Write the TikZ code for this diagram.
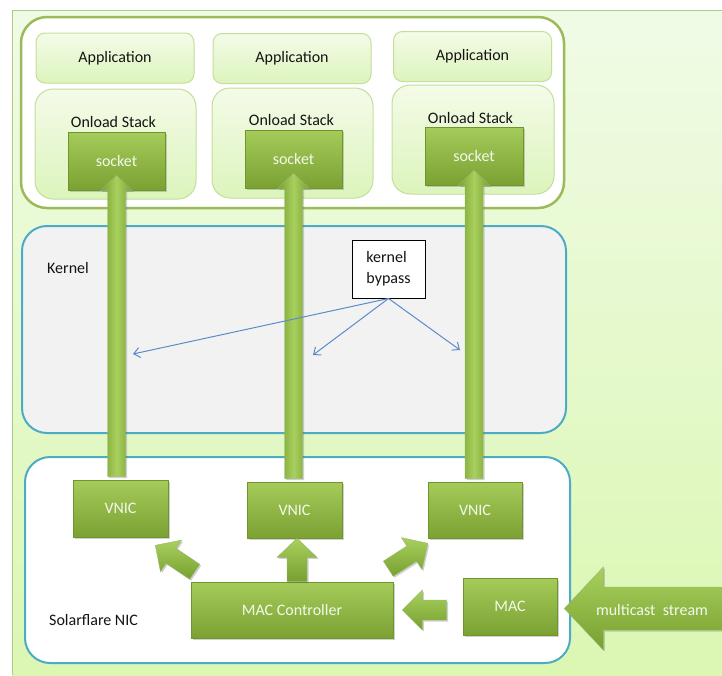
\documentclass[tikz,border=0pt]{standalone}
\usepackage{fontspec}
\setmainfont{Carlito}
\usetikzlibrary{calc,arrows.meta,shadows}

\definecolor{bgtop}{HTML}{F0FBE6}
\definecolor{bgbot}{HTML}{DBF7B2}
\definecolor{bgline}{HTML}{AFCB86}
\definecolor{leafline}{HTML}{9BBB59}
\definecolor{paletop}{HTML}{F4FBE8}
\definecolor{palebot}{HTML}{DCF4BC}
\definecolor{paleline}{HTML}{C4DE9C}
\definecolor{gtop}{HTML}{A5CB5A}
\definecolor{gbot}{HTML}{7AA132}
\definecolor{gline}{HTML}{6F962C}
\definecolor{gdark}{HTML}{76A030}
\definecolor{glight}{HTML}{A9D05E}
\definecolor{aqua}{HTML}{4BACC6}
\definecolor{kgray}{HTML}{F2F2F2}
\definecolor{bluearrow}{HTML}{5B8CC8}
\definecolor{gtext}{HTML}{F4F8EC}
\definecolor{ink}{HTML}{141414}

\newcommand\lbl{\fontsize{16}{21}\selectfont}

% block arrow: [style]{tail}{tip}{shaft half width}{head half width}{head length}
\newcommand\blockarrow[6][]{%
  \coordinate (ba-h) at ($(#3)!#6!(#2)$);
  \path[#1] ($(#2)!#4!90:(#3)$) -- ($(ba-h)!#4!90:(#3)$)
    -- ($(ba-h)!#5!90:(#3)$) -- (#3) -- ($(ba-h)!#5!-90:(#3)$)
    -- ($(ba-h)!#4!-90:(#3)$) -- ($(#2)!#4!-90:(#3)$) -- cycle;
}

\tikzset{
  softshadow/.style={drop shadow={shadow xshift=1.5pt,shadow yshift=-1.5pt,opacity=0.3,fill=black!60}},
  greenbox/.style={draw=gline, line width=0.6pt, top color=gtop, bottom color=gbot,
    text=gtext, font=\lbl, inner sep=0pt, softshadow},
  palebox/.style={draw=paleline, line width=1pt, top color=paletop, bottom color=palebot,
    text=ink, font=\lbl, inner sep=0pt},
  appbox/.style={palebox, rounded corners=9pt, minimum width=158pt, minimum height=50pt},
  stackbox/.style={palebox, rounded corners=18pt, minimum width=161pt, minimum height=110pt},
  sockbox/.style={greenbox, minimum width=97pt, minimum height=58pt},
  nicbox/.style={greenbox, minimum width=95pt, minimum height=57pt},
  caption/.style={text=ink, font=\lbl, inner sep=0pt},
  vshaft/.style={draw=gline!70, line width=0.4pt, left color=gdark, right color=gdark,
    middle color=glight, softshadow},
  flatarrow/.style={draw=gline!70, line width=0.4pt, top color=glight, bottom color=gdark,
    softshadow},
  hint/.style={draw=bluearrow, line width=1pt, -{Straight Barb[length=6pt,width=10pt]}},
}

\begin{document}
\begin{tikzpicture}[x=1pt,y=-1pt]
\useasboundingbox (0,0) rectangle (722,675);
\clip (0,0) rectangle (722,675);
\fill[white] (0,0) rectangle (722,675);
\fill[top color=bgtop,bottom color=bgbot] (12,10) rectangle (722,675);
\draw[bgline, line width=1pt] (12,675) -- (12,10) -- (722,10);

% containers
\node[draw=leafline, line width=2.5pt, fill=white, rounded corners=26pt,
  minimum width=543pt, minimum height=191pt, inner sep=0pt] (host) at (292.5,112.5) {};
\node[draw=aqua, line width=2pt, fill=kgray, rounded corners=25pt,
  minimum width=544pt, minimum height=207pt, inner sep=0pt] (kern) at (294,329.5) {};
\node[draw=aqua, line width=2pt, fill=white, rounded corners=25pt,
  minimum width=545pt, minimum height=206pt, inner sep=0pt] (nic) at (297.5,560) {};
\node[caption, anchor=west] (kernlbl) at (47,268) {Kernel};
\node[caption, anchor=west] (niclbl) at (49,620) {Solarflare NIC};

% applications and their onload stacks
\node[appbox] (app1) at (115,58) {Application};
\node[appbox] (app2) at (292,58.5) {Application};
\node[appbox] (app3) at (472.5,56.5) {Application};
\node[stackbox] (st1) at (115.5,144) {};
\node[stackbox] (st2) at (292.5,143) {};
\node[stackbox, minimum width=162pt, minimum height=109pt] (st3) at (473,139.5) {};
\node[caption] (stl1) at (113.5,122) {Onload Stack};
\node[caption] (stl2) at (291.5,120) {Onload Stack};
\node[caption] (stl3) at (470.5,118) {Onload Stack};
\node[sockbox] (s1) at (116.5,161) {socket};
\node[sockbox] (s2) at (293.5,159) {socket};
\node[sockbox, minimum width=98pt] (s3) at (474,156) {socket};

% NIC blocks
\node[nicbox] (v1) at (120.5,508.5) {VNIC};
\node[nicbox, minimum height=56pt] (v2) at (294.5,510) {VNIC};
\node[nicbox, minimum width=94pt, minimum height=56pt] (v3) at (475,510) {VNIC};
\node[greenbox, minimum width=202pt, minimum height=56pt] (mc) at (292,610) {MAC Controller};
\node[nicbox, minimum width=94pt] (mac) at (510,606.5) {MAC};

% kernel bypass paths from the VNICs up to the sockets
\coordinate (u1a) at ($(v1.north -| s1.south)+(0,-3)$);
\coordinate (u1b) at ($(s1.south)+(0,-15)$);
\coordinate (u2a) at ($(v2.north -| s2.south)+(0,-3)$);
\coordinate (u2b) at ($(s2.south)+(0,-15)$);
\coordinate (u3a) at ($(v3.north -| s3.south)+(0,-3)$);
\coordinate (u3b) at ($(s3.south)+(0,-15)$);
\blockarrow[vshaft]{u1a}{u1b}{9pt}{16pt}{15pt}
\blockarrow[vshaft]{u2a}{u2b}{9pt}{16pt}{15pt}
\blockarrow[vshaft]{u3a}{u3b}{9pt}{16pt}{15pt}

% MAC controller fan-out
\coordinate (d1a) at ($(mc.north west)+(4,-10)$);
\coordinate (d1b) at ($(v1.south east)+(-13,8)$);
\coordinate (d2a) at ($(mc.north)+(5,0)$);
\coordinate (d2b) at (v2.south -| d2a);
\coordinate (d3a) at ($(mc.north east)+(-5,-13)$);
\coordinate (d3b) at ($(v3.south west)+(0,5)$);
\blockarrow[flatarrow]{d1a}{d1b}{9pt}{19pt}{19pt}
\blockarrow[flatarrow]{d2a}{d2b}{10pt}{20pt}{19pt}
\blockarrow[flatarrow]{d3a}{d3b}{9pt}{19pt}{19pt}

% MAC to MAC controller
\coordinate (mm) at ($(mac.west |- mc.east)+(-16,0)$);
\coordinate (mt) at ($(mc.east)+(9,0)$);
\blockarrow[flatarrow]{mm}{mt}{10pt}{20pt}{20pt}

% incoming stream
\coordinate (ms) at (745,608.5);
\coordinate (me) at ($(mac.east)+(7,2)$);
\blockarrow[flatarrow]{ms}{me}{21.5pt}{41.5pt}{39pt}
\node[font=\lbl, text=gtext, inner sep=0pt] (mst) at (652,610) {multicast\ \ stream};

% kernel bypass note
\node[draw=black, line width=1pt, fill=white, minimum width=73pt, minimum height=58pt,
  font=\lbl, text=ink, align=left, inner sep=0pt] (kb) at (388.5,269) {kernel\\bypass};
\coordinate (k1) at (133,354);
\coordinate (k2) at (313,355);
\coordinate (k3) at (460,350);
\draw[hint] (kb.south) -- (k1);
\draw[hint] (kb.south) -- (k2);
\draw[hint] (kb.south) -- (k3);
\end{tikzpicture}
\end{document}
